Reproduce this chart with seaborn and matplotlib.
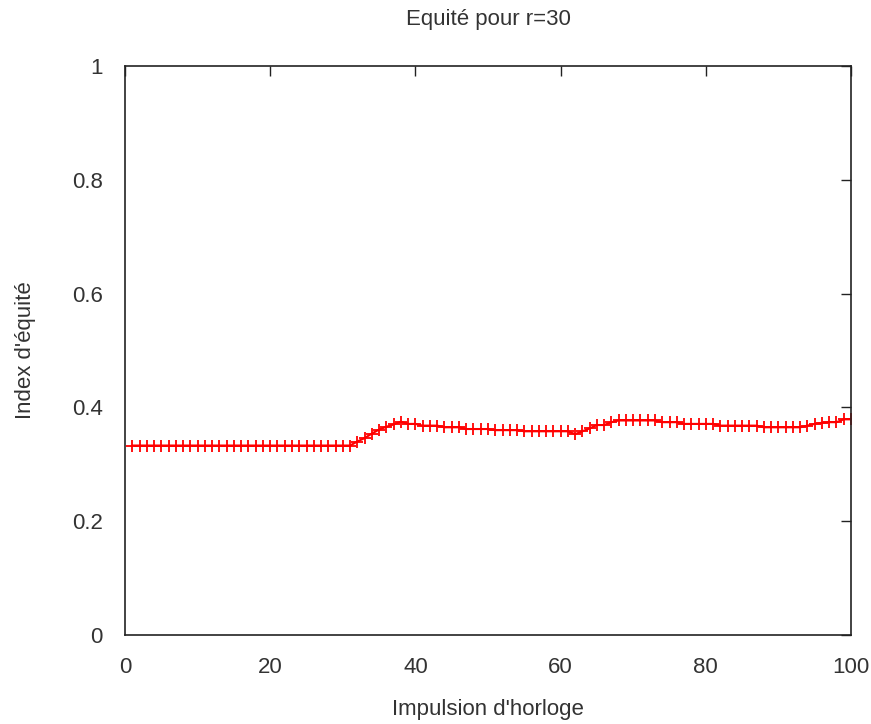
import matplotlib
matplotlib.use("Agg")  # no display
import matplotlib.pyplot as plt
import seaborn as sns
import pandas as pd

# clock ticks and fairness index
ticks = list(range(1, 101))
equity = [0.333] * 31 + [
    0.340, 0.346, 0.354, 0.361, 0.366, 0.370, 0.375, 0.371, 0.371,   # 32-40
    0.368, 0.368, 0.368, 0.365, 0.365, 0.365, 0.362, 0.362, 0.362, 0.362,  # 41-50
    0.360, 0.360, 0.360, 0.360, 0.358, 0.358, 0.358, 0.358, 0.358, 0.358,  # 51-60
    0.358, 0.353, 0.358, 0.363, 0.369, 0.369, 0.374, 0.377, 0.377, 0.377,  # 61-70
    0.377, 0.377, 0.377, 0.374, 0.374, 0.374, 0.371, 0.371, 0.371, 0.371,  # 71-80
    0.371, 0.368, 0.368, 0.368, 0.368, 0.368, 0.368, 0.365, 0.365, 0.365,  # 81-90
    0.365, 0.365, 0.365, 0.368, 0.371, 0.373, 0.374, 0.374, 0.379, 0.379,  # 91-100
]

x_ticks = [0, 20, 40, 60, 80, 100]
y_ticks = [0, 0.2, 0.4, 0.6, 0.8, 1]
y_labels = ["0", "0.2", "0.4", "0.6", "0.8", "1"]

sns.set_style("white")
plt.rcParams["font.family"] = ["Liberation Sans", "DejaVu Sans"]
text_col = "#333333"
fs = 16

df = pd.DataFrame({"tick": ticks, "equity": equity})

fig = plt.figure(figsize=(8.71, 7.24), dpi=100)
ax = fig.add_axes([125 / 871, 89 / 724, 726 / 871, 569 / 724])

sns.lineplot(data=df, x="tick", y="equity", ax=ax, color="#ff0000",
             linewidth=1.5, marker="+", markersize=8, markeredgewidth=1.3,
             markeredgecolor="#ff0000")

ax.set_xlim(0, 100)
ax.set_ylim(0, 1)
ax.set_xticks(x_ticks)
ax.set_yticks(y_ticks)
ax.set_yticklabels(y_labels)
ax.tick_params(direction="in", length=7, width=1, top=True, right=True,
               labelsize=fs, colors="#222222", labelcolor=text_col)
ax.tick_params(axis="x", pad=16)
ax.tick_params(axis="y", pad=16)
for s in ax.spines.values():
    s.set_color("#222222")
    s.set_linewidth(1.2)
ax.set_xlabel("")
ax.set_ylabel("")

# gnuplot-style titles placed by hand
fig.text(488 / 871, 1 - 19 / 724, "Equité pour r=30", ha="center", va="center",
         fontsize=fs, color=text_col)
fig.text(488 / 871, 1 - 709 / 724, "Impulsion d'horloge", ha="center", va="center",
         fontsize=fs, color=text_col)
fig.text(25 / 871, 1 - 350 / 724, "Index d'équité", ha="center", va="center",
         rotation=90, fontsize=fs, color=text_col)

plt.savefig("out.png", dpi=100)
plt.close()
